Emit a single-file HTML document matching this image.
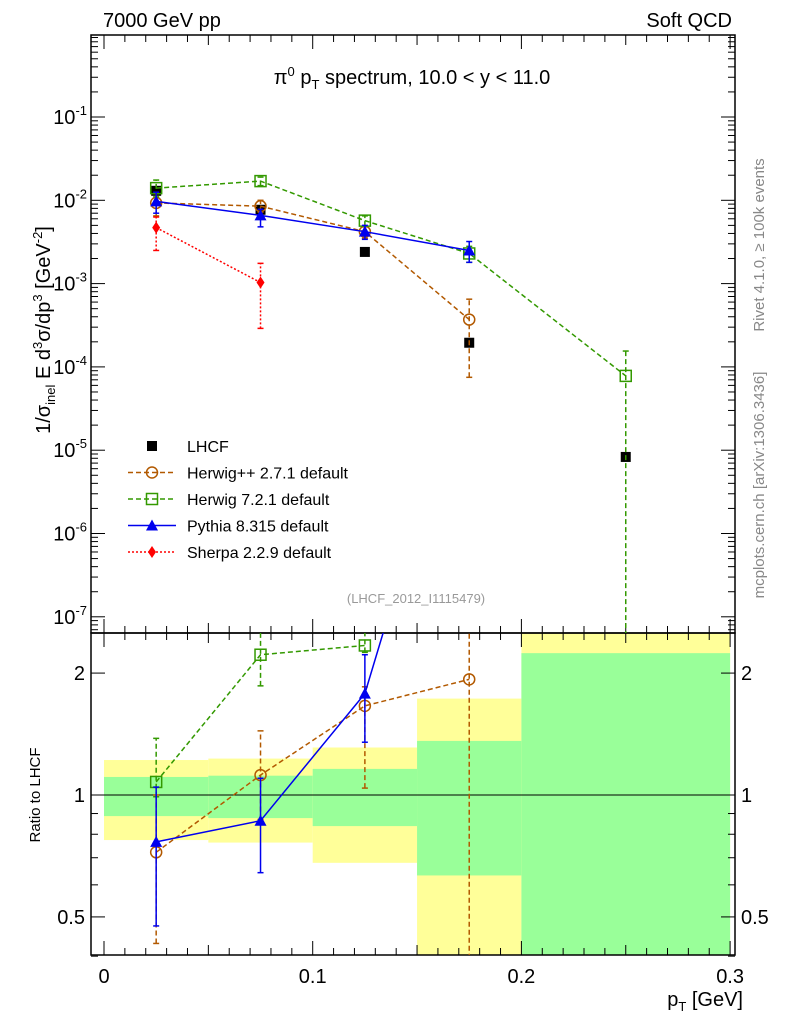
<!DOCTYPE html>
<html><head><meta charset="utf-8"><style>
body{margin:0;background:#fff;font-family:"Liberation Sans",sans-serif}
svg text{font-family:"Liberation Sans",sans-serif}
</style></head><body>
<svg id="c" width="786" height="1024" xmlns="http://www.w3.org/2000/svg">
<text x="103" y="27" font-size="20">7000 GeV pp</text>
<text x="732" y="27" font-size="20" text-anchor="end">Soft QCD</text>
<text x="412" y="84" font-size="20" text-anchor="middle">π<tspan dy="-8" font-size="13">0</tspan><tspan dy="8"> p</tspan><tspan dy="5" font-size="13">T</tspan><tspan dy="-5"> spectrum, 10.0 &lt; y &lt; 11.0</tspan></text>
<text transform="translate(764,245) rotate(-90)" font-size="15" fill="#888" text-anchor="middle">Rivet 4.1.0, ≥ 100k events</text>
<text transform="translate(764,485) rotate(-90)" font-size="15" fill="#888" text-anchor="middle">mcplots.cern.ch [arXiv:1306.3436]</text>
<text x="416" y="603" font-size="13" fill="#999" text-anchor="middle">(LHCF_2012_I1115479)</text>
<text transform="translate(50,330) rotate(-90)" font-size="20" text-anchor="middle">1/σ<tspan dy="5" font-size="13">inel</tspan><tspan dy="-5"> E d</tspan><tspan dy="-8" font-size="13">3</tspan><tspan dy="8">σ/dp</tspan><tspan dy="-8" font-size="13">3</tspan><tspan dy="8"> [GeV</tspan><tspan dy="-8" font-size="13">-2</tspan><tspan dy="8">]</tspan></text>
<text transform="translate(40,795) rotate(-90)" font-size="15" text-anchor="middle">Ratio to LHCF</text>
<text x="743" y="1006" font-size="20" text-anchor="end">p<tspan dy="5" font-size="13">T</tspan><tspan dy="-5"> [GeV]</tspan></text>
<g id="bands"></g><g id="axes"></g><g id="marks"></g><g id="legend"></g>
</svg>
<script>
const NS="http://www.w3.org/2000/svg";
const binEdges=[0,0.05,0.1,0.15,0.2,0.3];
const yellowLo=[0.774,0.763,0.68,0.30,0.30];
const yellowHi=[1.22,1.23,1.31,1.73,2.6];
const greenLo=[0.887,0.877,0.838,0.633,0.30];
const greenHi=[1.108,1.116,1.16,1.36,2.24];
const lhcfX=[0.025,0.075,0.125,0.175,0.25];
const lhcfY=[1.3e-2,7.7e-3,2.4e-3,1.95e-4,8.3e-6];
const hppX=[0.025,0.075,0.125,0.175];
const hppY=[9.3e-3,8.5e-3,4.2e-3,3.7e-4];
const hppLo=[6.5e-3,7.2e-3,3.5e-3,7.5e-5];
const hppHi=[1.2e-2,1.0e-2,4.8e-3,6.5e-4];
const hppR=[0.722,1.12,1.66,1.93];
const hppRLo=[0.43,0.87,1.04,0.3];
const hppRHi=[1.0,1.44,1.85,2.6];
const h7X=[0.025,0.075,0.125,0.175,0.25];
const h7Y=[1.4e-2,1.7e-2,5.7e-3,2.3e-3,7.8e-5];
const h7Lo=[1.1e-2,1.5e-2,4.9e-3,1.8e-3,1e-8];
const h7Hi=[1.75e-2,1.9e-2,6.5e-3,2.8e-3,1.55e-4];
const h7R=[1.077,2.22,2.34];
const h7RLo=[0.99,1.86,2.25];
const h7RHi=[1.38,2.6,2.6];
const pyX=[0.025,0.075,0.125,0.175];
const pyY=[9.7e-3,6.6e-3,4.2e-3,2.5e-3];
const pyLo=[7e-3,4.8e-3,3.4e-3,1.8e-3];
const pyHi=[1.25e-2,7.8e-3,5e-3,3.2e-3];
const pyR=[0.766,0.864,1.78,12.8];
const pyRLo=[0.475,0.643,1.35,12.8];
const pyRHi=[1.046,1.10,2.22,12.8];
const shX=[0.025,0.075];
const shY=[4.7e-3,1.03e-3];
const shLo=[2.5e-3,2.9e-4];
const shHi=[6.3e-3,1.75e-3];
const xTicks=[0,0.1,0.2,0.3];
const xTickLabels=["0","0.1","0.2","0.3"];
const yDecades=[-7,-6,-5,-4,-3,-2,-1];
const rTicks=[0.5,1,2];
const L=91,R=735,T=35,M=633,B=955;
const X=v=>104+v*2087;
const Y=v=>117-(Math.log10(v)+1)*83.3;
const RY=v=>795-Math.log10(v)*405;
function el(t,a,p){const e=document.createElementNS(NS,t);for(const k in a)e.setAttribute(k,a[k]);document.getElementById(p).appendChild(e);return e;}
for(let i=0;i<5;i++){
 const x0=X(binEdges[i]),x1=X(binEdges[i+1]);
 const clip=v=>Math.max(M,Math.min(B,RY(v)));
 let e=el('rect',{x:x0,y:clip(yellowHi[i]),width:x1-x0,height:clip(yellowLo[i])-clip(yellowHi[i]),fill:'#ffff99'},'bands');
 
 e=el('rect',{x:x0,y:clip(greenHi[i]),width:x1-x0,height:clip(greenLo[i])-clip(greenHi[i]),fill:'#99ff99'},'bands');
 
}
el('line',{x1:L,x2:R,y1:RY(1),y2:RY(1),stroke:'#000','stroke-width':1},'axes');
el('rect',{x:L,y:T,width:R-L,height:M-T,fill:'none',stroke:'#000','stroke-width':1.5},'axes');
el('rect',{x:L,y:M,width:R-L,height:B-M,fill:'none',stroke:'#000','stroke-width':1.5},'axes');
for(let i=0;i<=30;i++){const v=i*0.01,x=X(v);const big=i%10==0;const s=big?14:(i%5==0?10:7);
 [[T,T+s],[M,M-s],[M,M+s],[B,B-s]].forEach(([a,b])=>el('line',{x1:x,x2:x,y1:a,y2:b,stroke:'#000'},'axes'));}
xTicks.forEach((v,i)=>{const t=el('text',{x:X(v),y:983,'font-size':20,'text-anchor':'middle'},'axes');t.textContent=xTickLabels[i];
 });
yDecades.forEach(d=>{const y=Y(Math.pow(10,d));
 el('line',{x1:L,x2:L+14,y1:y,y2:y,stroke:'#000'},'axes');el('line',{x1:R,x2:R-14,y1:y,y2:y,stroke:'#000'},'axes');
 const t=el('text',{x:L-4,y:y+7,'font-size':20,'text-anchor':'end'},'axes');
 t.innerHTML='10<tspan dy="-9" font-size="13">'+d+'</tspan>';
 
 for(let k=2;k<10;k++){const yy=Y(k*Math.pow(10,d));if(yy<T)continue;
  el('line',{x1:L,x2:L+7,y1:yy,y2:yy,stroke:'#000'},'axes');el('line',{x1:R,x2:R-7,y1:yy,y2:yy,stroke:'#000'},'axes');}
});
for(let k=2;k<10;k++){const yy=Y(k*1e-8);if(yy<M&&yy>T){el('line',{x1:L,x2:L+7,y1:yy,y2:yy,stroke:'#000'},'axes');el('line',{x1:R,x2:R-7,y1:yy,y2:yy,stroke:'#000'},'axes');}}
[0.4,0.5,0.6,0.7,0.8,0.9,1,2].forEach(v=>{const y=RY(v),s=rTicks.includes(v)?14:7;
 el('line',{x1:L,x2:L+s,y1:y,y2:y,stroke:'#000'},'axes');el('line',{x1:R,x2:R-s,y1:y,y2:y,stroke:'#000'},'axes');});
rTicks.forEach(v=>{[[L-6,'end'],[R+6,'start']].forEach(([x,a])=>{const t=el('text',{x:x,y:RY(v)+7,'font-size':20,'text-anchor':a},'axes');t.textContent=String(v);
 });});
const defs=el('defs',{},'marks');
const c1=document.createElementNS(NS,'clipPath');c1.setAttribute('id','cm');defs.appendChild(c1);
const r1=document.createElementNS(NS,'rect');r1.setAttribute('x',L);r1.setAttribute('y',T);r1.setAttribute('width',R-L);r1.setAttribute('height',M-T);c1.appendChild(r1);
const c2=document.createElementNS(NS,'clipPath');c2.setAttribute('id','cr');defs.appendChild(c2);
const r2=document.createElementNS(NS,'rect');r2.setAttribute('x',L);r2.setAttribute('y',M);r2.setAttribute('width',R-L);r2.setAttribute('height',B-M);c2.appendChild(r2);
const gm=el('g',{'clip-path':'url(#cm)'},'marks');gm.setAttribute('id','gm');
const gr=el('g',{'clip-path':'url(#cr)'},'marks');gr.setAttribute('id','gr');
function marker(kind,x,y,col,p){
 if(kind=='sq')return el('rect',{x:x-5,y:y-5,width:10,height:10,fill:'#000'},p);
 if(kind=='osq')return el('rect',{x:x-5.5,y:y-5.5,width:11,height:11,fill:'none',stroke:col,'stroke-width':1.5},p);
 if(kind=='circ')return el('circle',{cx:x,cy:y,r:5.5,fill:'none',stroke:col,'stroke-width':1.5},p);
 if(kind=='tri')return el('polygon',{points:`${x},${y-6} ${x-6},${y+5} ${x+6},${y+5}`,fill:col},p);
 if(kind=='dia')return el('polygon',{points:`${x},${y-6} ${x-4},${y} ${x},${y+6} ${x+4},${y}`,fill:col},p);
}
function series(name,xs,ys,lo,hi,col,dash,kind,fy,p){
 const pts=xs.map((x,i)=>X(x)+','+fy(ys[i])).join(' ');
 let e=el('polyline',{points:pts,fill:'none',stroke:col,'stroke-width':1.5,'stroke-dasharray':dash},p);
 
 xs.forEach((x,i)=>{
  if(lo){el('line',{x1:X(x),x2:X(x),y1:fy(lo[i]),y2:fy(hi[i]),stroke:col,'stroke-width':1.5,'stroke-dasharray':dash},p);
   [lo[i],hi[i]].forEach(v=>el('line',{x1:X(x)-3,x2:X(x)+3,y1:fy(v),y2:fy(v),stroke:col,'stroke-width':1.5},p));}
  const m=marker(kind,X(x),fy(ys[i]),col,p);
  
 });
}
lhcfX.forEach((x,i)=>{const m=marker('sq',X(x),Y(lhcfY[i]),'#000','gm');});
series('herwigpp',hppX,hppY,hppLo,hppHi,'#b25900','5,3','circ',Y,'gm');
series('herwig7',h7X,h7Y,h7Lo,h7Hi,'#339900','5,3','osq',Y,'gm');
series('pythia',pyX,pyY,pyLo,pyHi,'#0000ee','','tri',Y,'gm');
series('sherpa',shX,shY,shLo,shHi,'#ff0000','2,2','dia',Y,'gm');
series('herwigpp-ratio',hppX,hppR,hppRLo,hppRHi,'#b25900','5,3','circ',RY,'gr');
series('herwig7-ratio',h7X.slice(0,3),h7R,h7RLo,h7RHi,'#339900','5,3','osq',RY,'gr');
series('pythia-ratio',pyX,pyR,pyRLo,pyRHi,'#0000ee','','tri',RY,'gr');
const leg=[['LHCF','sq','#000',''],['Herwig++ 2.7.1 default','circ','#b25900','5,3'],['Herwig 7.2.1 default','osq','#339900','5,3'],['Pythia 8.315 default','tri','#0000ee',''],['Sherpa 2.2.9 default','dia','#ff0000','2,2']];
leg.forEach((l,i)=>{const y=446+i*26.5;
 if(i>0){el('line',{x1:128,x2:176,y1:y,y2:y,stroke:l[2],'stroke-width':1.5,'stroke-dasharray':l[3]},'legend');}
 marker(l[1],152,y,l[2],'legend');
 const t=el('text',{x:187,y:y+6,'font-size':16},'legend');t.textContent=l[0];
 });
</script>
</body></html>
